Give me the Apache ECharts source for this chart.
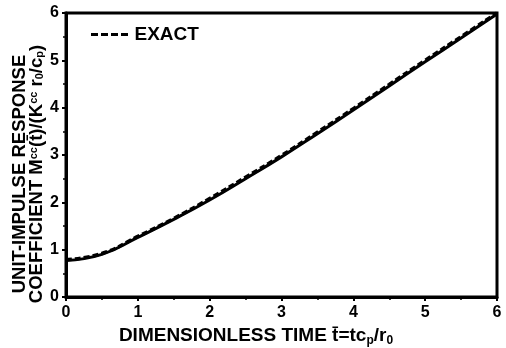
<!DOCTYPE html>
<html><head><meta charset="utf-8">
<script src="https://cdn.jsdelivr.net/npm/echarts@6/dist/echarts.min.js"></script>
<style>html,body{margin:0;padding:0;background:#fff}#c{width:506px;height:348px}</style>
</head><body><div id="c"></div>
<script>
const timeValues = [0, 0.5, 1, 1.5, 2, 2.5, 3, 3.5, 4, 4.5, 5, 5.5, 6];
const exactValues = [0.79, 0.92, 1.28, 1.66, 2.08, 2.53, 2.99, 3.48, 3.98, 4.49, 5.0, 5.5, 6.0];
const approxValues = [0.77, 0.9, 1.26, 1.64, 2.05, 2.5, 2.96, 3.45, 3.95, 4.46, 4.97, 5.47, 5.98];
const xTicks = [0, 1, 2, 3, 4, 5, 6];
const yTicks = [0, 1, 2, 3, 4, 5, 6];

const F = 'Liberation Sans, Arial, Helvetica, sans-serif';
const chart = echarts.init(document.getElementById('c'), null, {renderer: 'canvas'});
const pair = arr => timeValues.map((t, i) => [t, arr[i]]);
const axisCommon = {
  axisLine: {show: true, onZero: false, lineStyle: {color: '#000', width: 3}},
  axisTick: {show: true, inside: false, length: 4, lineStyle: {color: '#000', width: 2}},
  minorTick: {show: true, splitNumber: 2, length: 3, lineStyle: {color: '#000', width: 1.5}},
  splitLine: {show: false},
  axisLabel: {color: '#000', fontFamily: F, fontWeight: 'bold', fontSize: 16}
};
const bold = (size) => ({fontFamily: F, fontWeight: 'bold', fontSize: size, color: '#000'});
chart.setOption({
  animation: false,
  backgroundColor: '#fff',
  grid: {left: 66, right: 9, top: 13, bottom: 51, show: true, borderColor: '#000', borderWidth: 3},
  legend: {
    show: true, left: 86, top: 20, data: ['EXACT'],
    icon: 'path://M0,0h7v3h-7zM10,0h7v3h-7zM20,0h7v3h-7zM30,0h7v3h-7z',
    itemWidth: 40, itemHeight: 3, itemGap: 5,
    textStyle: bold(19),
    itemStyle: {color: '#000'}
  },
  xAxis: Object.assign({}, axisCommon, {
    type: 'value', min: 0, max: 6, interval: 1,
    axisLabel: Object.assign({}, axisCommon.axisLabel, {margin: 8, formatter: v => xTicks.includes(v) ? String(v) : ''})
  }),
  yAxis: Object.assign({}, axisCommon, {
    type: 'value', min: 0, max: 6, interval: 1,
    axisLabel: Object.assign({}, axisCommon.axisLabel, {margin: 7, formatter: v => yTicks.includes(v) ? String(v) : ''})
  }),
  graphic: [{
    type: 'text', x: 28, y: 174, rotation: Math.PI / 2,
    style: {
      text: '{b|UNIT-IMPULSE RESPONSE}\n{b|COEFFICIENT M}{p|cc}{b|(t\u0304)/(K}{p|cc}{b| r}{s|0}{b|/c}{s|p}{b|)}',
      align: 'center', verticalAlign: 'middle', lineHeight: 17,
      rich: {
        b: Object.assign(bold(18.5), {lineHeight: 17}),
        p: Object.assign(bold(11), {verticalAlign: 'top', lineHeight: 17}),
        s: Object.assign(bold(11), {verticalAlign: 'bottom', lineHeight: 17})
      }
    }
  }, {
    type: 'text', x: 256, y: 336,
    style: {
      text: '{b|DIMENSIONLESS TIME t\u0304=tc}{s|p}{b|/r}{s|0}',
      align: 'center', verticalAlign: 'middle',
      rich: {
        b: bold(19),
        s: Object.assign(bold(12), {verticalAlign: 'bottom', padding: [9, 0, 0, 0]})
      }
    }
  }],
  series: [
    {name: 'APPROX', type: 'line', data: pair(approxValues), smooth: true, symbol: 'none',
     lineStyle: {color: '#000', width: 3}, itemStyle: {color: '#000'}, z: 2},
    {name: 'EXACT', type: 'line', data: pair(exactValues), smooth: true, symbol: 'none',
     lineStyle: {color: '#000', width: 3.5, type: [6, 3]}, itemStyle: {color: '#000'}, z: 3}
  ]
});
</script></body></html>
